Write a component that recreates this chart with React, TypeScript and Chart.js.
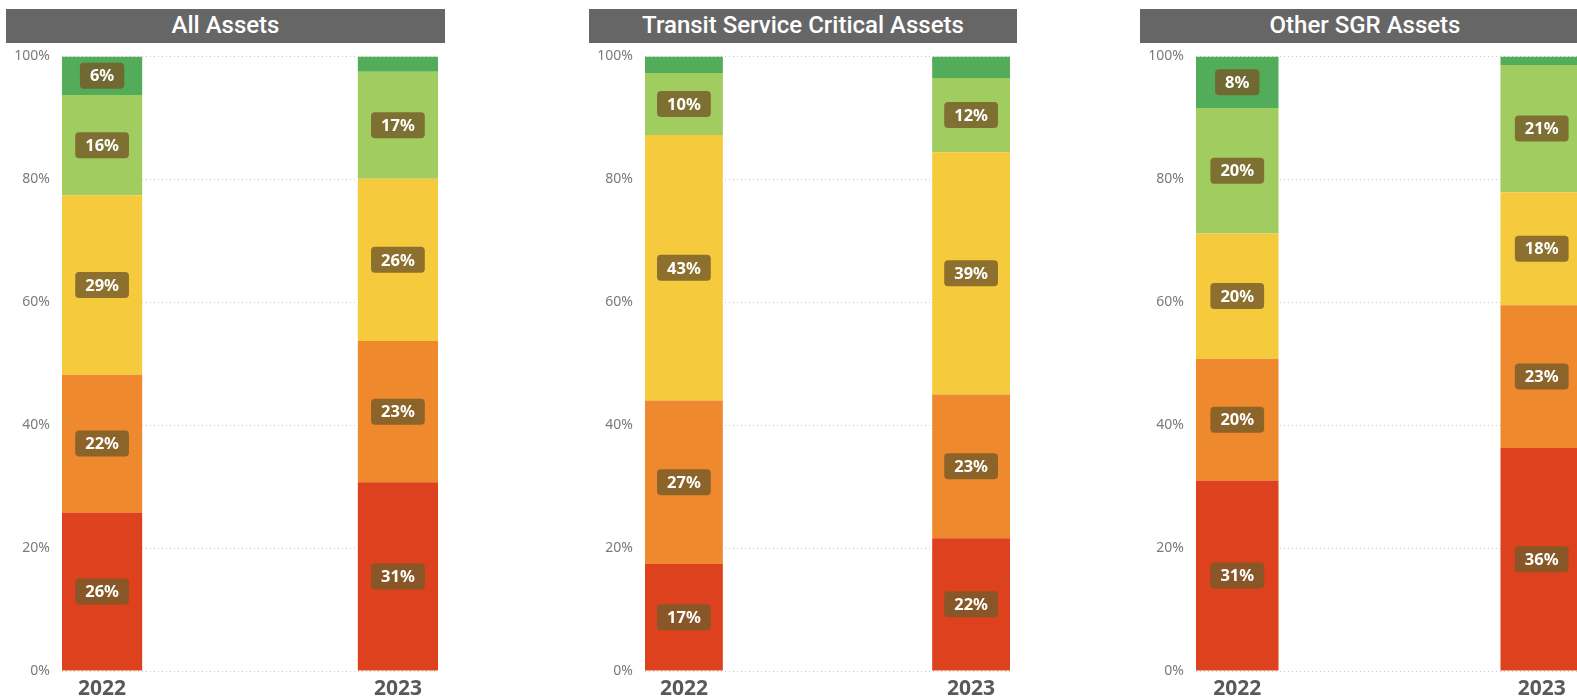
import React, { useEffect, useRef } from 'react';
import { Chart, registerables } from 'chart.js';

Chart.register(...registerables);

const years = ['2022', '2023'];
const seriesNames = ['Condition 1', 'Condition 2', 'Condition 3', 'Condition 4', 'Condition 5'];
const seriesColors = ['#DD411D', '#EE8A2D', '#F5CB3D', '#A1CC5F', '#52AC5A'];

// All Assets (% of assets, 2022 / 2023)
const allRed = [25.8, 30.7];
const allOrange = [22.4, 23.0];
const allYellow = [29.2, 26.4];
const allLightGreen = [16.3, 17.4];
const allGreen = [6.3, 2.5];

// Transit Service Critical Assets
const transitRed = [17.4, 21.6];
const transitOrange = [26.6, 23.4];
const transitYellow = [43.2, 39.4];
const transitLightGreen = [10.1, 12.1];
const transitGreen = [2.7, 3.5];

// Other SGR Assets
const otherRed = [31.0, 36.3];
const otherOrange = [19.8, 23.2];
const otherYellow = [20.4, 18.4];
const otherLightGreen = [20.4, 20.7];
const otherGreen = [8.4, 1.4];

const yTicks = [0, 20, 40, 60, 80, 100];

const FONT = '"Noto Sans", "Open Sans", sans-serif';

const segLabels = {
  id: 'segLabels',
  afterDatasetsDraw(chart: any) {
    const ctx = chart.ctx;
    ctx.save();
    ctx.font = `bold 16.5px ${FONT}`;
    ctx.textAlign = 'center';
    ctx.textBaseline = 'middle';
    chart.data.datasets.forEach((ds: any, i: number) => {
      const meta = chart.getDatasetMeta(i);
      meta.data.forEach((el: any, j: number) => {
        const v = ds.data[j].y;
        if (v < 5) return;
        const { x, y, base } = el.getProps(['x', 'y', 'base'], true);
        const cy = (y + base) / 2;
        const t = Math.round(v) + '%';
        const w = ctx.measureText(t).width + 20;
        const h = 26;
        ctx.fillStyle = 'rgba(118, 92, 42, 0.82)';
        ctx.beginPath();
        ctx.roundRect(x - w / 2, cy - h / 2, w, h, 4);
        ctx.fill();
        ctx.fillStyle = '#ffffff';
        ctx.fillText(t, x, cy + 1);
      });
    });
    ctx.restore();
  },
};

type PanelProps = {
  title: string;
  left: number;
  width: number;
  series: number[][];
};

function Panel({ title, left, width, series }: PanelProps) {
  const ref = useRef<HTMLCanvasElement | null>(null);
  useEffect(() => {
    if (!ref.current) return;
    const chart = new Chart(ref.current, {
      type: 'bar',
      data: {
        datasets: series.map((vals, k) => ({
          label: seriesNames[k],
          data: years.map((_, i) => ({ x: i, y: vals[i] })),
          backgroundColor: seriesColors[k],
          borderWidth: 0,
          barPercentage: 0.271,
          categoryPercentage: 1,
        })),
      },
      options: {
        animation: false,
        responsive: false,
        layout: { padding: { top: 1, right: 7, left: 0, bottom: 0 } },
        plugins: { legend: { display: false }, tooltip: { enabled: false } },
        scales: {
          x: {
            type: 'linear',
            stacked: true,
            offset: false,
            min: -0.1355,
            max: 1.1355,
            grid: { display: false, drawTicks: false, offset: false },
            border: { display: false },
            ticks: {
              stepSize: 1,
              includeBounds: false,
              autoSkip: false,
              maxRotation: 0,
              padding: 5,
              color: '#595959',
              font: { family: FONT, size: 21, weight: 'bold' },
              callback: (v: any) => (years[v] !== undefined ? years[v] : ''),
            },
            afterFit: (s: any) => {
              s.height = 29;
            },
          },
          y: {
            stacked: true,
            min: 0,
            max: 100,
            afterBuildTicks: (s: any) => {
              s.ticks = yTicks.map((v) => ({ value: v }));
            },
            ticks: {
              padding: 12,
              color: '#7a7a7a',
              font: { family: FONT, size: 14 },
              callback: (v: any) => v + '%',
            },
            grid: { color: '#c8c8c8', drawTicks: false, lineWidth: 1 },
            border: { display: false, dash: [1, 3] },
            afterFit: (s: any) => {
              s.width = 56;
            },
          },
        },
      } as any,
      plugins: [segLabels],
    });
    return () => chart.destroy();
  }, []);

  return (
    <div style={{ position: 'absolute', left, top: 0, width, height: 700 }}>
      <div
        style={{
          position: 'absolute',
          left: 0,
          top: 9,
          width,
          height: 34,
          background: '#666666',
          color: '#ffffff',
          fontFamily: 'Roboto, sans-serif',
          fontWeight: 500,
          fontSize: 24,
          lineHeight: '32px',
          textAlign: 'center',
          whiteSpace: 'nowrap',
        }}
      >
        {title}
      </div>
      <canvas
        ref={ref}
        width={width}
        height={664}
        style={{ position: 'absolute', left: 0, top: 36, width, height: 664 }}
      />
    </div>
  );
}

export default function App() {
  return (
    <div
      style={{
        position: 'fixed',
        left: 0,
        top: 0,
        width: 1577,
        height: 700,
        overflow: 'hidden',
        background: '#ffffff',
      }}
    >
      <Panel
        title="All Assets"
        left={6}
        width={439}
        series={[allRed, allOrange, allYellow, allLightGreen, allGreen]}
      />
      <Panel
        title="Transit Service Critical Assets"
        left={589}
        width={428}
        series={[transitRed, transitOrange, transitYellow, transitLightGreen, transitGreen]}
      />
      <Panel
        title="Other SGR Assets"
        left={1140}
        width={450}
        series={[otherRed, otherOrange, otherYellow, otherLightGreen, otherGreen]}
      />
    </div>
  );
}
